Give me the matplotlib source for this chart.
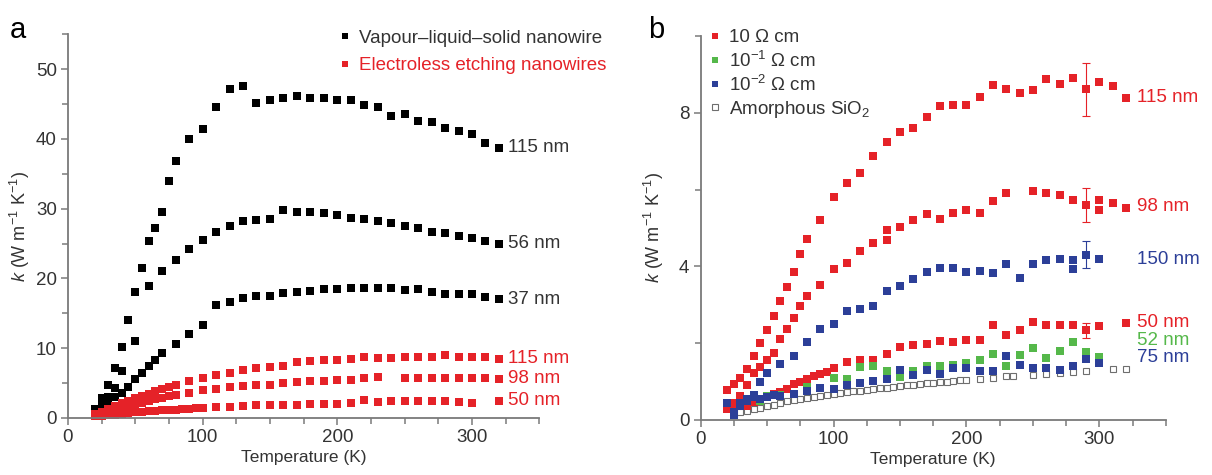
import matplotlib
matplotlib.use("Agg")
import matplotlib.pyplot as plt
import numpy as np

plt.rcParams['font.family'] = ['Liberation Sans', 'DejaVu Sans']
plt.rcParams['mathtext.fontset'] = 'custom'
plt.rcParams['mathtext.rm'] = 'Liberation Sans'
plt.rcParams['mathtext.it'] = 'Liberation Sans:italic'

RED = '#e52228'
BLUE = '#2c3f98'
GREEN = '#55b84a'
AXC = '#7a7a7a'
TXT = '#333333'

# ---- panel a data ----
T_lo = [20, 25, 30, 35, 40, 45, 50, 55, 60, 65, 70, 75, 80]
T_hi = list(range(90, 330, 10))

vls115_T = T_lo + T_hi
vls115_k = [1.3, 2.9, 4.8, 7.1, 10.2, 14.0, 18.0, 21.5, 25.3, 27.2, 29.5, 33.9, 36.8,
            40.0, 41.4, 44.5, 47.1, 47.6, 45.2, 45.6, 45.8, 46.2, 45.8, 45.9, 45.6,
            45.6, 44.8, 44.6, 43.3, 43.5, 42.5, 42.4, 41.6, 41.1, 40.7, 39.4, 38.7]

vls56_T = [20, 25, 30, 35, 40, 50, 60, 70, 80] + T_hi
vls56_k = [1.0, 2.2, 3.0, 4.3, 6.7, 11.1, 18.9, 21.0, 22.7,
           24.2, 25.5, 26.6, 27.5, 28.2, 28.4, 28.5, 29.8, 29.5, 29.5, 29.4, 29.1,
           28.7, 28.5, 28.2, 27.9, 27.5, 27.2, 26.7, 26.5, 26.1, 25.8, 25.4, 25.0]

vls37_T = [20, 25, 30, 35, 40, 45, 50, 55, 60, 65, 70, 80, 90, 100] + list(range(110, 330, 10))
vls37_k = [0.5, 1.2, 2.0, 3.0, 3.6, 4.5, 5.6, 6.5, 7.4, 8.3, 9.3, 10.6, 12.1, 13.3,
           16.2, 16.6, 17.2, 17.5, 17.5, 17.9, 18.1, 18.2, 18.5, 18.5, 18.6,
           18.6, 18.6, 18.6, 18.3, 18.5, 18.0, 17.8, 17.8, 17.7, 17.4, 17.0]

ee115_T = T_lo + T_hi
ee115_k = [0.6, 0.9, 1.3, 1.7, 2.1, 2.5, 2.9, 3.2, 3.5, 3.8, 4.1, 4.4, 4.7,
           5.3, 5.8, 6.2, 6.5, 6.9, 7.2, 7.3, 7.5, 8.0, 8.1, 8.3, 8.3,
           8.5, 8.7, 8.6, 8.6, 8.7, 8.8, 8.7, 9.0, 8.8, 8.7, 8.7, 8.5]

ee98_T = T_lo + [90, 100, 110, 120, 130, 140, 150, 160, 170, 180, 190, 200, 210,
                 220, 230, 250, 260, 270, 280, 290, 300, 310, 320]
ee98_k = [0.4, 0.6, 0.9, 1.1, 1.4, 1.7, 2.0, 2.2, 2.4, 2.7, 2.9, 3.1, 3.3,
          3.6, 4.0, 4.1, 4.4, 4.6, 4.7, 4.8, 5.0, 5.2, 5.3, 5.3, 5.4, 5.4,
          5.7, 5.9, 5.8, 5.7, 5.7, 5.7, 5.7, 5.7, 5.7, 5.6]

ee50_T = [20, 25, 30, 35, 40, 45, 50, 55, 60, 65, 70, 75, 80, 85, 90, 95, 100,
          110, 120, 130, 140, 150, 160, 170, 180, 190, 200, 210, 220, 230, 240,
          250, 260, 270, 280, 290, 300, 320]
ee50_k = [0.3, 0.35, 0.45, 0.5, 0.6, 0.7, 0.8, 0.85, 0.95, 1.0, 1.1, 1.15, 1.2,
          1.25, 1.3, 1.4, 1.5,
          1.6, 1.6, 1.7, 1.8, 1.9, 1.9, 1.9, 2.0, 2.0, 2.0, 2.1, 2.6, 2.3, 2.4,
          2.5, 2.5, 2.4, 2.4, 2.3, 2.2, 2.5]

# ---- panel b data ----
b115_T = [20, 25, 30, 35, 40, 45, 50, 55, 60, 65, 70, 75, 80] + T_hi
b115_k = [0.77, 0.93, 1.1, 1.33, 1.67, 2.0, 2.33, 2.7, 3.1, 3.45, 3.85, 4.33, 4.72,
          5.2, 5.8, 6.18, 6.43, 6.88, 7.24, 7.5, 7.6, 7.88, 8.19, 8.21, 8.21,
          8.42, 8.73, 8.62, 8.51, 8.6, 8.88, 8.75, 8.9, 8.62, 8.8, 8.69, 8.4]

b98_T = [20, 25, 30, 35, 40, 45, 50, 55, 60, 65, 70, 75, 80, 90, 100, 110, 120,
         130, 140, 140, 150, 160, 170, 180, 190, 200, 210, 220, 230, 250, 260,
         270, 280, 290, 300, 300, 310, 320]
b98_k = [0.42, 0.45, 0.62, 0.91, 1.22, 1.39, 1.55, 1.75, 2.1, 2.37, 2.65, 2.96,
         3.22, 3.52, 3.94, 4.1, 4.4, 4.6, 4.7, 4.96, 5.02, 5.2, 5.37, 5.23, 5.39,
         5.47, 5.39, 5.71, 5.91, 5.96, 5.9, 5.87, 5.73, 5.6, 5.74, 5.48, 5.65, 5.52]

b150_T = [20, 25, 30, 35, 40, 45, 50, 60, 70, 80, 90, 100, 110, 120, 130, 140,
          150, 160, 170, 180, 190, 200, 210, 220, 230, 240, 250, 260, 270, 280,
          280, 290, 300]
b150_k = [0.45, 0.2, 0.45, 0.55, 0.65, 0.98, 1.22, 1.46, 1.66, 2.03, 2.37, 2.5,
          2.83, 2.9, 2.96, 3.35, 3.48, 3.67, 3.86, 3.96, 3.96, 3.86, 3.88, 3.82,
          4.07, 3.7, 4.07, 4.16, 4.2, 4.16, 3.92, 4.3, 4.18]

b50_T = [20, 25, 30, 35, 40, 45, 50, 55, 60, 65, 70, 75, 80, 85, 90, 95, 100,
         110, 120, 130, 140, 150, 160, 170, 180, 190, 200, 210, 220, 230, 240,
         250, 260, 270, 280, 290, 300, 320]
b50_k = [0.29, 0.33, 0.37, 0.37, 0.46, 0.55, 0.6, 0.67, 0.72, 0.81, 0.94, 1.0,
         1.07, 1.15, 1.2, 1.25, 1.36, 1.5, 1.55, 1.55, 1.71, 1.91, 1.95, 1.97,
         2.05, 2.02, 2.08, 2.09, 2.48, 2.22, 2.35, 2.54, 2.47, 2.48, 2.48, 2.33,
         2.45, 2.52]

b52_T = [45, 50, 60, 80, 100, 110, 120, 130, 140, 150, 160, 170, 180, 190, 200,
         210, 220, 230, 240, 250, 260, 270, 280, 290, 300]
b52_k = [0.5, 0.62, 0.65, 0.85, 1.1, 1.07, 1.37, 1.4, 1.28, 1.13, 1.27, 1.4, 1.4,
         1.42, 1.48, 1.55, 1.72, 1.41, 1.7, 1.87, 1.62, 1.79, 2.02, 1.78, 1.65]

b75_T = [25, 30, 35, 40, 45, 50, 55, 60, 70, 80, 90, 100, 110, 120, 130, 140,
         150, 160, 170, 180, 190, 200, 210, 220, 230, 240, 250, 260, 270, 280,
         290, 300]
b75_k = [0.12, 0.35, 0.5, 0.6, 0.55, 0.6, 0.65, 0.62, 0.67, 0.75, 0.82, 0.8,
         0.92, 0.95, 1.01, 1.07, 1.3, 1.16, 1.3, 1.19, 1.36, 1.34, 1.27, 1.28,
         1.66, 1.44, 1.36, 1.36, 1.29, 1.41, 1.58, 1.49]

sio2_T = list(range(25, 205, 5)) + [210, 220, 230, 235, 250, 260, 270, 280, 290, 310, 320]
sio2_k = [0.15, 0.2, 0.24, 0.28, 0.32, 0.36, 0.4, 0.44, 0.48, 0.51, 0.54, 0.57,
          0.6, 0.63, 0.66, 0.68, 0.7, 0.72, 0.74, 0.76, 0.78, 0.8, 0.82, 0.84,
          0.86, 0.88, 0.9, 0.91, 0.93, 0.95, 0.97, 0.98, 1.0, 1.01, 1.03, 1.04,
          1.07, 1.1, 1.14, 1.15, 1.18, 1.2, 1.22, 1.25, 1.27, 1.32, 1.33]

# error bars at 290 K
err_T = [290, 290, 290, 290]
err_k = [8.62, 5.6, 4.3, 2.33]
err_d = [0.69, 0.45, 0.35, 0.2]
err_c = [RED, RED, BLUE, RED]

FS = 13.5


def style_axes(ax, ymax, ymajor, yminor, ylabelpad):
    for s in ['top', 'right']:
        ax.spines[s].set_visible(False)
    for s in ['left', 'bottom']:
        ax.spines[s].set_color(AXC)
        ax.spines[s].set_linewidth(1.3)
    ax.set_xlim(0, 350)
    ax.set_ylim(0, ymax)
    ax.set_xticks([0, 100, 200, 300])
    ax.set_xticks(np.arange(0, 351, 25), minor=True)
    ax.set_yticks(ymajor)
    ax.set_yticks(yminor, minor=True)
    ax.tick_params(which='both', direction='out', color=AXC, width=1.1,
                   labelsize=FS, labelcolor=TXT, pad=3)
    ax.tick_params(which='major', length=5)
    ax.tick_params(which='minor', length=4)
    ax.set_xlabel("Temperature (K)", fontsize=12.5, color=TXT, labelpad=3)
    ax.set_ylabel(r"$k$ (W m$^{-1}$ K$^{-1}$)", fontsize=13, color=TXT,
                  labelpad=ylabelpad)


fig = plt.figure(figsize=(12.12, 4.75), dpi=100)
ax1 = fig.add_axes([0.056, 0.12, 0.389, 0.808])
ax2 = fig.add_axes([0.578, 0.116, 0.384, 0.808])

kw = dict(ls='none', marker='s', ms=5.6, mew=0, clip_on=False)

# panel a
ax1.plot(vls115_T, vls115_k, color='black', label='Vapour–liquid–solid nanowire', **kw)
ax1.plot(vls56_T, vls56_k, color='black', **kw)
ax1.plot(vls37_T, vls37_k, color='black', **kw)
ax1.plot(ee115_T, ee115_k, color=RED, label='Electroless etching nanowires', **kw)
ax1.plot(ee98_T, ee98_k, color=RED, **kw)
ax1.plot(ee50_T, ee50_k, color=RED, **kw)
style_axes(ax1, 55, [0, 10, 20, 30, 40, 50], np.arange(0, 56, 5), 3)

for txt, y, c in [("115 nm", vls115_k[-1], TXT), ("56 nm", vls56_k[-1], TXT),
                  ("37 nm", vls37_k[-1], TXT), ("115 nm", ee115_k[-1], RED),
                  ("98 nm", ee98_k[-1], RED), ("50 nm", ee50_k[-1], RED)]:
    ax1.text(327, y, txt, color=c, fontsize=FS, va='center', ha='left', clip_on=False)

ax1.legend(loc='upper left', bbox_to_anchor=(0.578, 1.012), frameon=False,
           fontsize=FS, handlelength=0.5, handletextpad=0.5,
           labelspacing=0.55, borderpad=0, borderaxespad=0,
           labelcolor=[TXT, RED], markerscale=0.75)

# panel b
ax2.plot(b115_T, b115_k, color=RED, label='10 Ω cm', **kw)
ax2.plot(b98_T, b98_k, color=RED, **kw)
ax2.plot(b50_T, b50_k, color=RED, **kw)
ax2.plot(b52_T, b52_k, color=GREEN, label=r'10$^{-1}$ Ω cm', **kw)
ax2.plot(b150_T, b150_k, color=BLUE, label=r'10$^{-2}$ Ω cm', **kw)
ax2.plot(b75_T, b75_k, color=BLUE, **kw)
ax2.plot(sio2_T, sio2_k, ls='none', marker='s', ms=5.0, mfc='white', mec='#6e6e6e',
         mew=0.8, label=r'Amorphous SiO$_2$', zorder=1.5)
for t, k, d, c in zip(err_T, err_k, err_d, err_c):
    ax2.errorbar([t], [k], yerr=[d], fmt='none', ecolor=c, elinewidth=0.8,
                 capsize=3, capthick=0.8)
style_axes(ax2, 10, [0, 4, 8], np.arange(0, 11, 2), 9)

for txt, y, c in [("115 nm", 8.39, RED), ("98 nm", 5.55, RED), ("150 nm", 4.19, BLUE),
                  ("50 nm", 2.54, RED), ("52 nm", 2.06, GREEN), ("75 nm", 1.63, BLUE)]:
    ax2.text(328, y, txt, color=c, fontsize=FS, va='center', ha='left', clip_on=False)

ax2.legend(loc='upper left', bbox_to_anchor=(0.02, 1.018), frameon=False,
           fontsize=FS, handlelength=0.5, handletextpad=0.5,
           labelspacing=0.22, borderpad=0, borderaxespad=0,
           labelcolor=TXT, markerscale=0.75)

fig.text(0.008, 0.92, "a", fontsize=21, color='black', va='baseline')
fig.text(0.535, 0.92, "b", fontsize=21, color='black', va='baseline')

fig.savefig("out.png", dpi=100)
